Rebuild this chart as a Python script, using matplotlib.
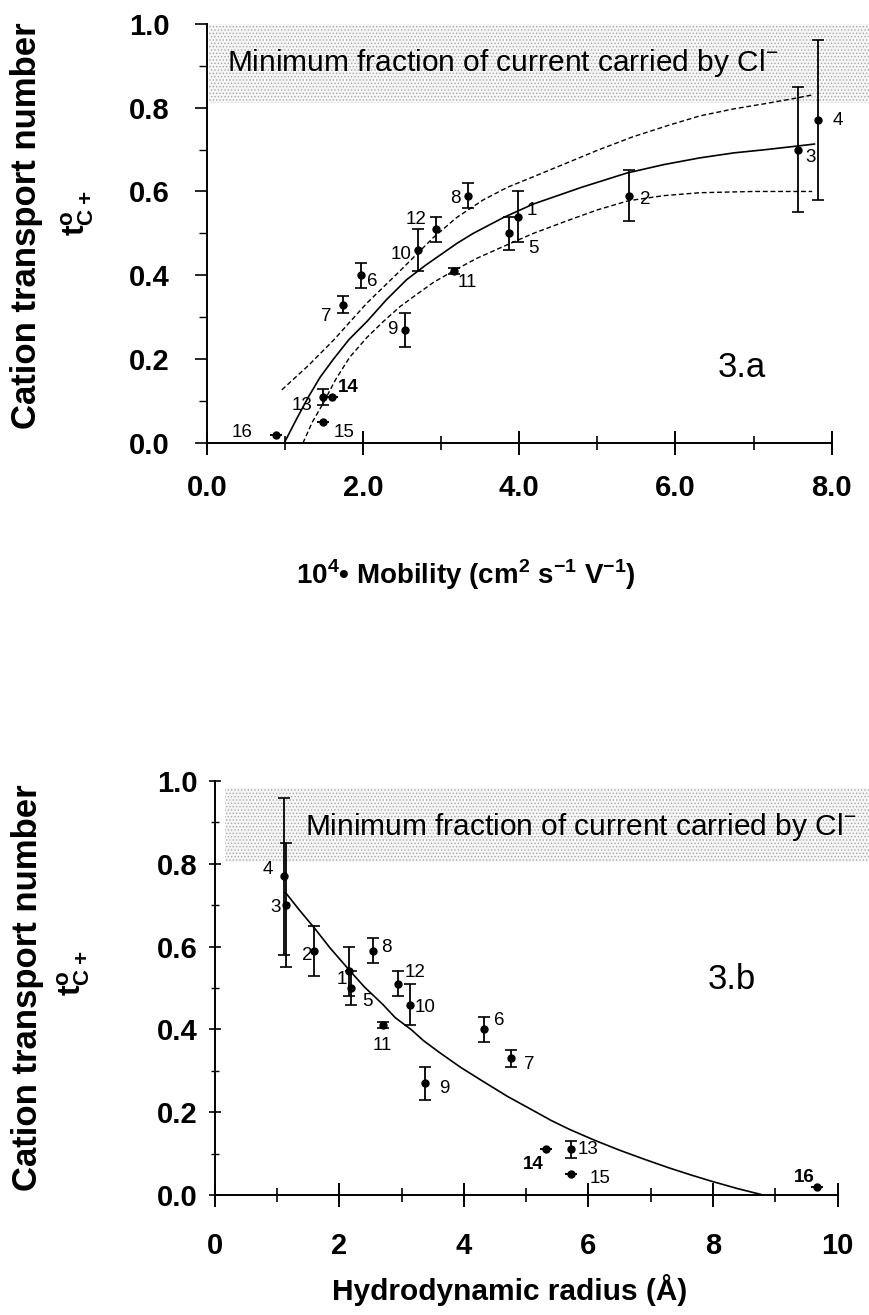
import numpy as np
import matplotlib
matplotlib.use('Agg')
import matplotlib.pyplot as plt
from matplotlib.ticker import MultipleLocator, FixedLocator

plt.rcParams['font.family'] = ['Liberation Sans', 'DejaVu Sans']
plt.rcParams['mathtext.fontset'] = 'custom'
plt.rcParams['mathtext.rm'] = 'Liberation Sans'
plt.rcParams['mathtext.bf'] = 'Liberation Sans:bold'
plt.rcParams['hatch.linewidth'] = 0.6

# cation numbers 1..16
ion_id = ['1', '2', '3', '4', '5', '6', '7', '8', '9', '10', '11', '12', '13', '14', '15', '16']
mobility = [3.99, 5.40, 7.57, 7.82, 3.87, 1.97, 1.74, 3.34, 2.54, 2.71, 3.16, 2.94, 1.49, 1.60, 1.49, 0.88]
radius = [2.15, 1.59, 1.14, 1.11, 2.19, 4.33, 4.75, 2.54, 3.38, 3.14, 2.70, 2.95, 5.72, 5.32, 5.72, 9.67]
t_cat = [0.54, 0.59, 0.70, 0.77, 0.50, 0.40, 0.33, 0.59, 0.27, 0.46, 0.41, 0.51, 0.11, 0.11, 0.05, 0.02]
t_err = [0.06, 0.06, 0.15, 0.19, 0.04, 0.03, 0.02, 0.03, 0.04, 0.05, 0.007, 0.03, 0.02, 0.0, 0.0, 0.0]

# fitted curve and confidence bands, panel a
fit_a_x = [0.99, 1.15, 1.3, 1.45, 1.62, 1.82, 2.05, 2.3, 2.56, 2.8, 3.0, 3.2, 3.41, 3.8, 4.18,
           4.8, 5.38, 5.85, 6.31, 6.75, 7.17, 7.5, 7.78]
fit_a_y = [0.0, 0.058, 0.11, 0.157, 0.20, 0.247, 0.29, 0.342, 0.39, 0.424, 0.45, 0.476, 0.50,
           0.538, 0.57, 0.61, 0.644, 0.664, 0.68, 0.692, 0.70, 0.707, 0.713]
upper_a_x = [0.96, 1.3, 1.62, 2.05, 2.47, 2.90, 3.2, 3.54, 3.85, 4.18, 4.61, 5.0, 5.45, 5.9,
             6.31, 6.75, 7.17, 7.5, 7.75]
upper_a_y = [0.127, 0.185, 0.245, 0.334, 0.41, 0.49, 0.538, 0.58, 0.61, 0.635, 0.668, 0.698,
             0.73, 0.757, 0.78, 0.797, 0.81, 0.821, 0.83]
lower_a_x = [1.23, 1.35, 1.49, 1.65, 1.83, 2.05, 2.26, 2.47, 2.69, 2.9, 3.15, 3.45, 3.75, 4.18,
             4.61, 5.0, 5.4, 5.85, 6.31, 7.0, 7.75]
lower_a_y = [0.0, 0.05, 0.095, 0.152, 0.205, 0.252, 0.29, 0.325, 0.355, 0.383, 0.41, 0.44,
             0.465, 0.50, 0.53, 0.556, 0.578, 0.59, 0.597, 0.60, 0.60]

# fitted curve, panel b
fit_b_x = [1.14, 1.35, 1.6, 1.85, 2.15, 2.4, 2.7, 2.9, 3.15, 3.35, 3.6, 3.95, 4.3, 4.7, 5.1,
           5.4, 5.7, 6.1, 6.5, 6.9, 7.3, 7.65, 8.0, 8.4, 8.8]
fit_b_y = [0.73, 0.69, 0.645, 0.597, 0.545, 0.503, 0.46, 0.428, 0.40, 0.373, 0.345, 0.308,
           0.275, 0.238, 0.205, 0.18, 0.158, 0.132, 0.108, 0.086, 0.065, 0.048, 0.032, 0.015, 0.0]

# label offsets in pixels (dx, dy) for each point
off_a = [(13, 6), (17, -4), (12, -8), (20, 0), (24, -15), (12, -6), (-16, -12), (-12, -3),
         (-13, 0), (-17, -4), (14, -11), (-20, 10), (-21, -8), (16, 10), (21, -10), (-33, 2)]
off_b = [(-7, -8), (-6, -5), (-10, -2), (-16, 7), (16, -14), (15, 9), (19, -6), (13, 3),
         (19, -5), (15, -3), (-1, -20), (17, 11), (17, 0), (-13, -15), (29, -4), (-13, 9)]
bold_a = ['14']
bold_b = ['14', '16']

fig = plt.figure(figsize=(8.69, 13.15), dpi=100)
ax1 = fig.add_axes([0.238, 0.663, 0.719, 0.319])
ax2 = fig.add_axes([0.247, 0.0913, 0.717, 0.3148])

px = 0.72  # pixels -> points


def style_axis(ax, ydir):
    for s in ['top', 'right']:
        ax.spines[s].set_visible(False)
    for s in ['left', 'bottom']:
        ax.spines[s].set_linewidth(1.4)
    ax.set_ylim(0, 1.0)
    ax.yaxis.set_major_locator(MultipleLocator(0.2))
    ax.yaxis.set_minor_locator(MultipleLocator(0.1))
    ax.yaxis.set_major_formatter(matplotlib.ticker.FormatStrFormatter('%.1f'))
    ax.tick_params(axis='x', which='major', direction='inout', length=17, width=1.4,
                   labelsize=21, pad=14)
    ax.tick_params(axis='x', which='minor', direction='inout', length=10, width=1.2)
    ax.tick_params(axis='y', which='major', direction=ydir, length=9, width=1.2,
                   labelsize=21)
    ax.tick_params(axis='y', which='minor', direction=ydir, length=6, width=1.0)
    for lab in ax.get_xticklabels() + ax.get_yticklabels():
        lab.set_fontweight('bold')


def shade(ax, x0, x1, y0, y1):
    ax.fill_between([x0, x1], y0, y1, facecolor='#f6f6f6', hatch='.....',
                    edgecolor='#a8a8a8', linewidth=0, clip_on=False, zorder=0)


def points(ax, xs, offs, bolds):
    ax.errorbar(xs, t_cat, yerr=t_err, fmt='o', color='black', ms=5, elinewidth=1.3,
                capsize=4, capthick=1.2, zorder=5, clip_on=False)
    for i, lab in enumerate(ion_id):
        dx, dy = offs[i]
        ax.annotate(lab, (xs[i], t_cat[i]), xytext=(dx * px, dy * px),
                    textcoords='offset points', ha='center', va='center', fontsize=13.5,
                    fontweight='bold' if lab in bolds else 'normal',
                    annotation_clip=False)


# ---- panel 3.a ----
style_axis(ax1, 'out')
ax1.set_xlim(0, 8.0)
ax1.xaxis.set_major_locator(FixedLocator([0, 2, 4, 6, 8]))
ax1.xaxis.set_minor_locator(FixedLocator([1, 3, 5, 7]))
ax1.set_xticklabels(['0.0', '2.0', '4.0', '6.0', '8.0'], fontweight='bold')
ax1.tick_params(axis='y', pad=18)
shade(ax1, 0.03, 8.48, 0.81, 1.0)
ax1.text(0.26, 0.907, 'Minimum fraction of current carried by Cl$^{-}$', fontsize=21.5,
         va='center', ha='left', zorder=2)
ax1.plot(fit_a_x, fit_a_y, color='black', lw=1.2, zorder=3)
ax1.plot(upper_a_x, upper_a_y, color='black', lw=1.0, ls=(0, (3.5, 2)), zorder=3)
ax1.plot(lower_a_x, lower_a_y, color='black', lw=1.0, ls=(0, (3.5, 2)), zorder=3)
points(ax1, mobility, off_a, bold_a)
ax1.text(6.85, 0.18, '3.a', fontsize=25, ha='center', va='center')

# ---- panel 3.b ----
style_axis(ax2, 'inout')
ax2.set_xlim(0, 10)
ax2.xaxis.set_major_locator(FixedLocator([0, 2, 4, 6, 8, 10]))
ax2.xaxis.set_minor_locator(FixedLocator([1, 3, 5, 7, 9]))
ax2.set_xticklabels(['0', '2', '4', '6', '8', '10'], fontweight='bold')
ax2.tick_params(axis='x', pad=18)
ax2.tick_params(axis='y', pad=8)
shade(ax2, 0.16, 10.5, 0.804, 0.983)
ax2.text(1.45, 0.889, 'Minimum fraction of current carried by Cl$^{-}$', fontsize=21.5,
         va='center', ha='left', zorder=2)
ax2.plot(fit_b_x, fit_b_y, color='black', lw=1.2, zorder=3)
points(ax2, radius, off_b, bold_b)
ax2.text(8.3, 0.52, '3.b', fontsize=25, ha='center', va='center')

# axis labels
ylab = 'Cation transport number'
tlab = r'$\mathbf{t^{o}_{C+}}$'
fig.text(0.031, 0.828, ylab, rotation=90, fontsize=25, fontweight='bold',
         ha='center', va='center')
fig.text(0.089, 0.838, tlab, rotation=90, fontsize=23, ha='center', va='center')
fig.text(0.032, 0.249, ylab, rotation=90, fontsize=25, fontweight='bold',
         ha='center', va='center')
fig.text(0.085, 0.26, tlab, rotation=90, fontsize=23, ha='center', va='center')

fig.text(0.536, 0.563,
         r'10$^{\mathbf{4}}$• Mobility (cm$^{\mathbf{2}}$ s$^{\mathbf{-1}}$ V$^{\mathbf{-1}}$)',
         fontsize=20, fontweight='bold', ha='center', va='center')
fig.text(0.587, 0.019, 'Hydrodynamic radius (Å)', fontsize=21.5, fontweight='bold',
         ha='center', va='center')

fig.savefig('out.png', dpi=100)
